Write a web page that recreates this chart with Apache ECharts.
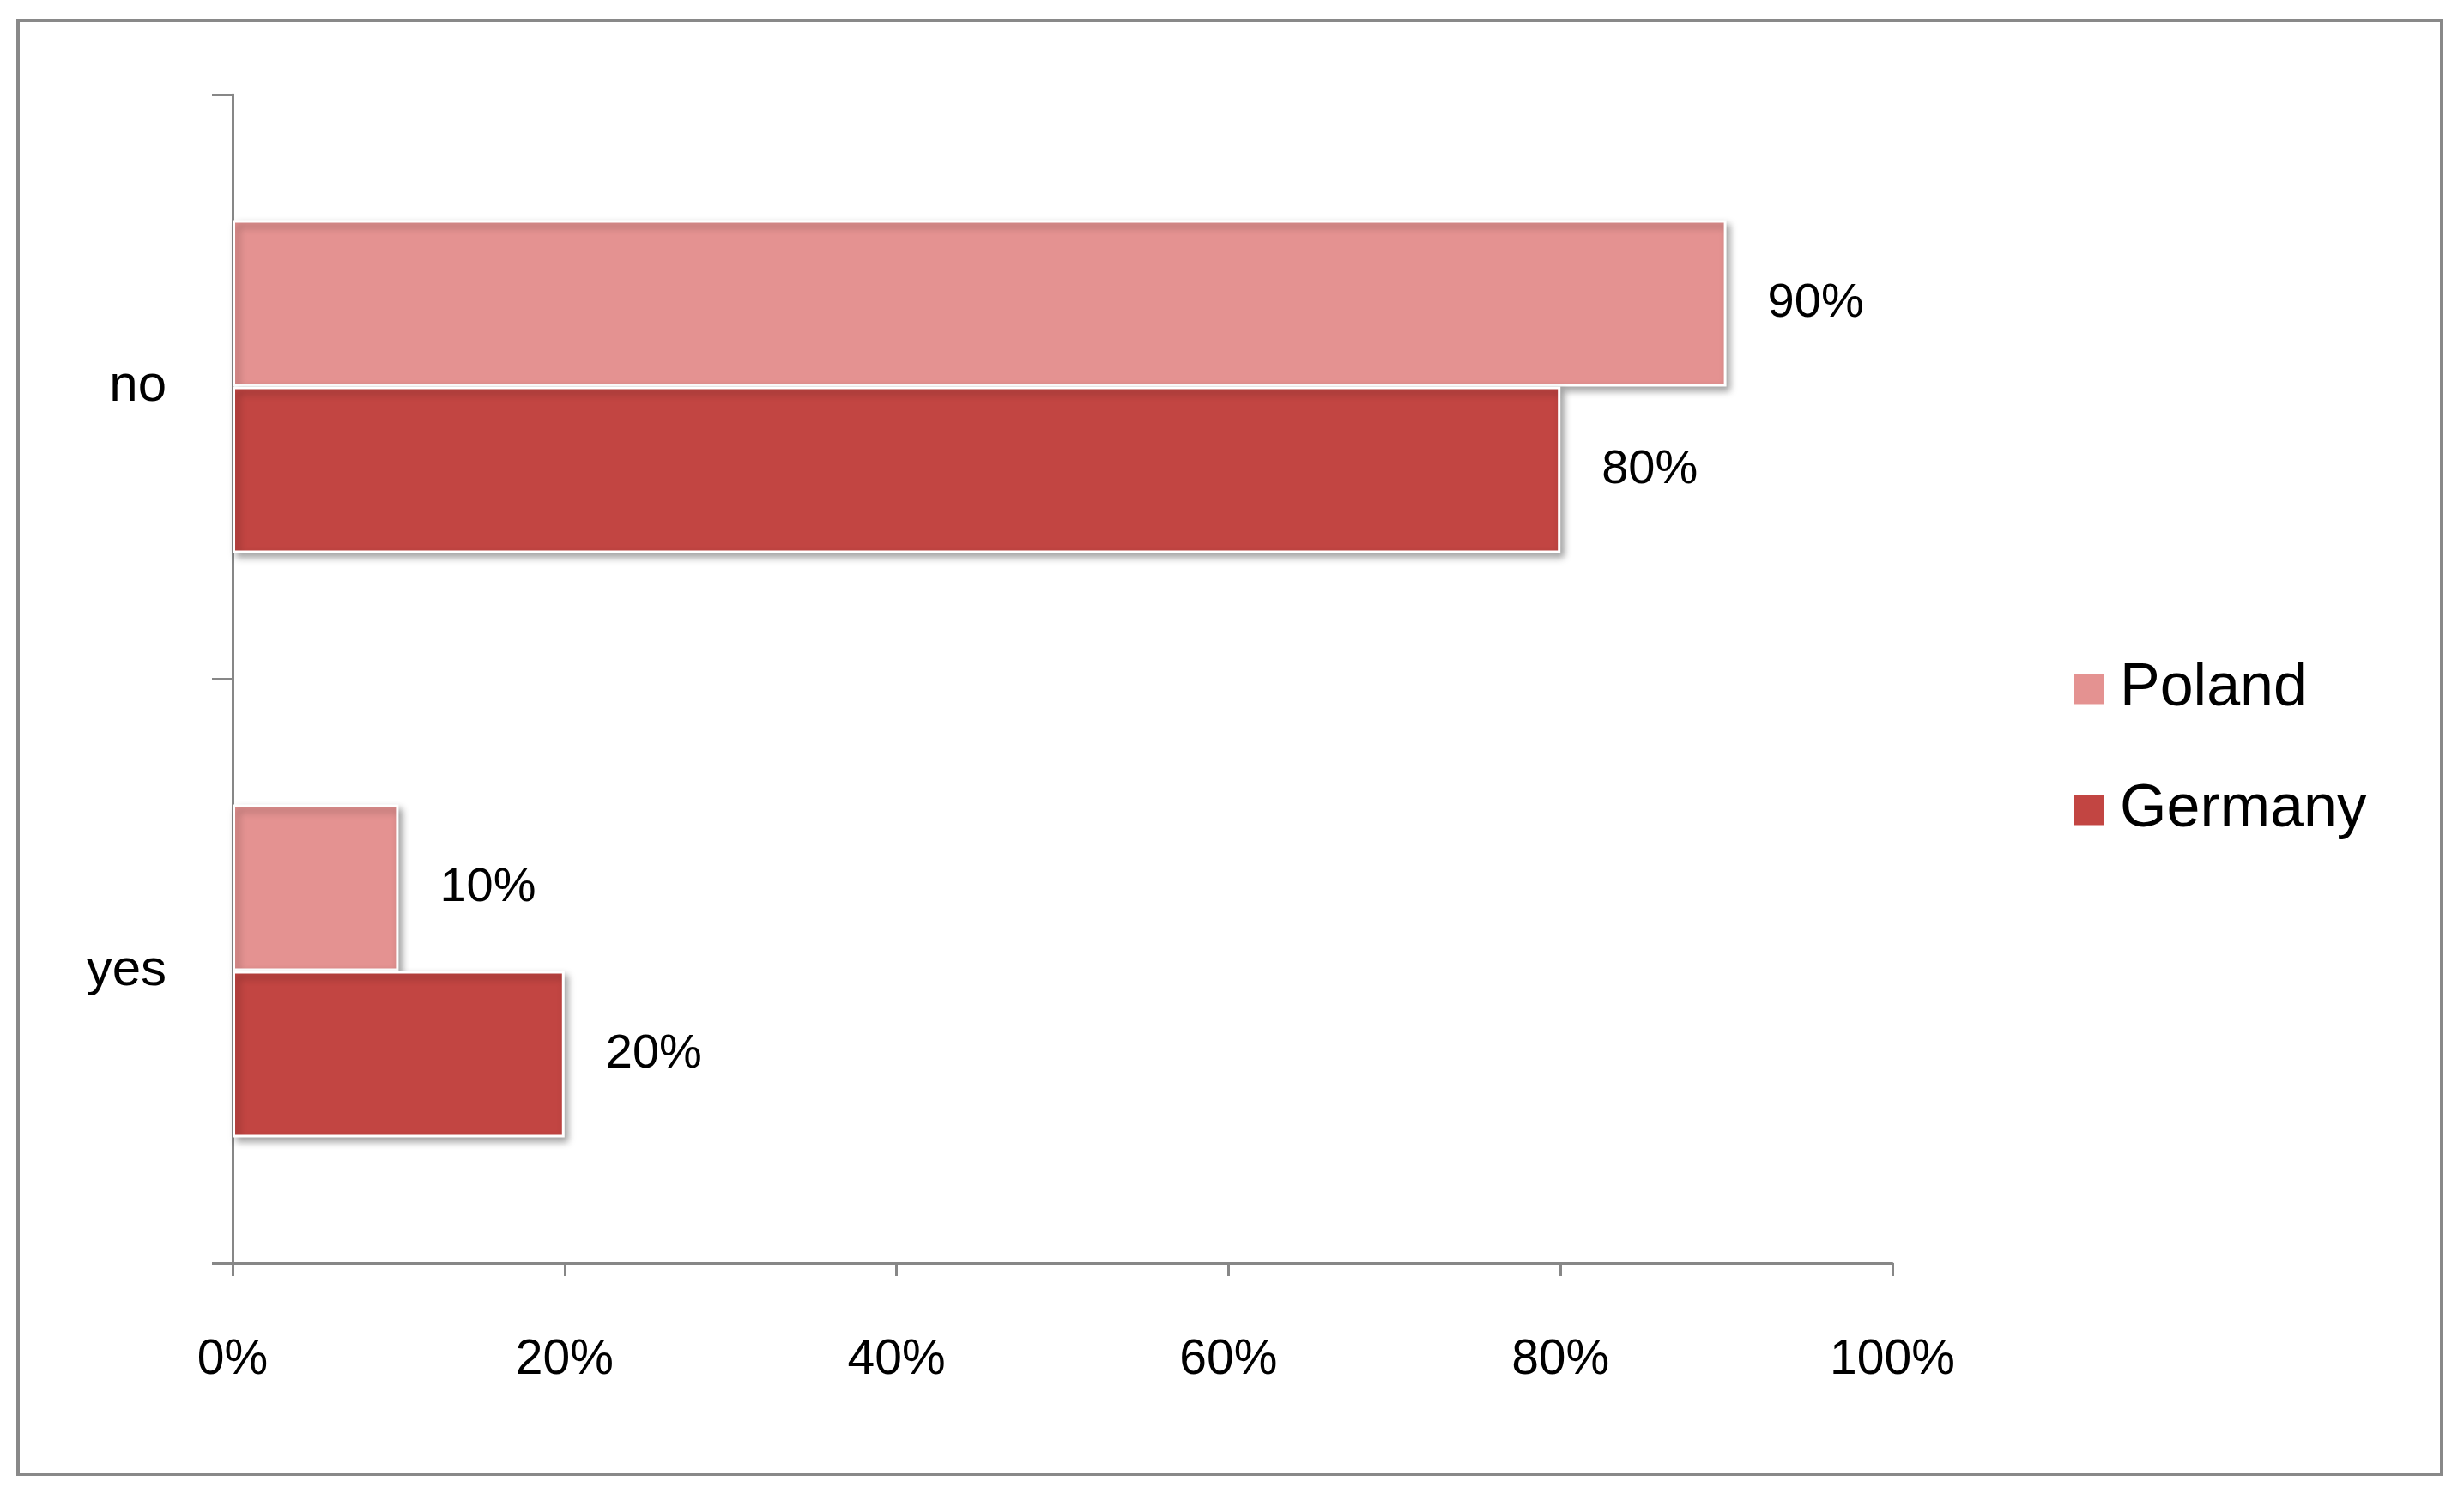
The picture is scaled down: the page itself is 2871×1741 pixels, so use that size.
<!DOCTYPE html>
<html>
  <head>
    <meta charset="utf-8" />
    <title>Poland vs Germany</title>
    <script src="https://cdn.jsdelivr.net/npm/echarts@6/dist/echarts.min.js"></script>
    <style>
      html, body { margin: 0; padding: 0; background: #fff; }
    </style>
  </head>
  <body>
    <div id="chart" style="width: 2871px; height: 1741px"></div>
    <script>
      // categories bottom -> top
      var categories = ["yes", "no"];
      var polandValues = [10, 90];
      var germanyValues = [20, 80];
      var seriesNames = ["Poland", "Germany"];
      var colors = { Poland: "#e49291", Germany: "#c24542" };

      var font = "Liberation Sans";
      var axisGray = "#878787";

      var barStyle = function (c) {
        return {
          color: c,
          borderColor: "#fff",
          borderWidth: 3,
          shadowColor: "rgba(0,0,0,0.35)",
          shadowBlur: 8,
          shadowOffsetX: 4,
          shadowOffsetY: 5,
        };
      };

      var labelStyle = {
        show: true,
        position: "right",
        distance: 48,
        color: "#000",
        fontFamily: font,
        fontSize: 56,
        formatter: "{c}%",
      };

      var option = {
        backgroundColor: "#fff",
        animation: false,
        graphic: [
          {
            type: "rect",
            shape: { x: 21, y: 24, width: 2824, height: 1694 },
            style: { fill: "none", stroke: "#898989", lineWidth: 4 },
          },
        ],
        legend: {
          data: seriesNames,
          orient: "vertical",
          left: 2410,
          top: 758,
          itemWidth: 37,
          itemHeight: 37,
          itemGap: 61,
          icon: "rect",
          textStyle: {
            fontFamily: font,
            fontSize: 70,
            lineHeight: 80,
            color: "#000",
            padding: [0, 0, 0, 12],
          },
        },
        grid: {
          left: 271,
          top: 110,
          right: 666,
          bottom: 269,
          containLabel: false,
        },
        xAxis: {
          type: "value",
          min: 0,
          max: 100,
          interval: 20,
          axisLine: { show: true, lineStyle: { color: axisGray, width: 3 } },
          axisTick: { show: true, length: 15, lineStyle: { color: axisGray, width: 3 } },
          splitLine: { show: false },
          axisLabel: {
            formatter: "{value}%",
            color: "#000",
            fontFamily: font,
            fontSize: 57,
            margin: 85,
          },
        },
        yAxis: {
          type: "category",
          data: categories,
          axisLine: { show: true, lineStyle: { color: axisGray, width: 3 } },
          axisTick: { show: true, length: 24, lineStyle: { color: axisGray, width: 3 } },
          axisLabel: {
            color: "#000",
            fontFamily: font,
            fontSize: 60,
            margin: 77,
          },
        },
        series: [
          {
            name: "Poland",
            type: "bar",
            data: polandValues,
            barWidth: 194,
            barGap: "0%",
            itemStyle: barStyle(colors.Poland),
            label: labelStyle,
          },
          {
            name: "Germany",
            type: "bar",
            data: germanyValues,
            barWidth: 194,
            barGap: "0%",
            itemStyle: barStyle(colors.Germany),
            label: labelStyle,
          },
        ],
      };

      var chart = echarts.init(document.getElementById("chart"));
      chart.setOption(option);
    </script>
  </body>
</html>
